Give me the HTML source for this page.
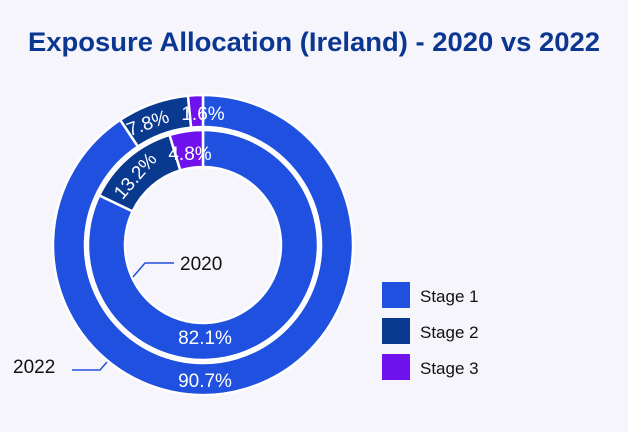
<!DOCTYPE html>
<html><head><meta charset="utf-8"><style>
html,body{margin:0;padding:0;background:#f7f5fc;}
svg{display:block;font-family:"Liberation Sans",sans-serif;}
</style></head><body>
<svg width="628" height="432" viewBox="0 0 628 432">
<rect width="628" height="432" fill="#f7f5fc"/>
<text x="314" y="51" text-anchor="middle" font-size="27" font-weight="bold" fill="#0b3791" textLength="572" lengthAdjust="spacingAndGlyphs" font-family="Liberation Sans Narrow, Liberation Sans, sans-serif">Exposure Allocation (Ireland) - 2020 vs 2022</text>
<g stroke="#fff" stroke-width="2.5">
<path d="M203,95 A150,150 0 1 1 120.26,119.88 L137.91,146.58 A118,118 0 1 0 203,127 Z" fill="#2050e0"/>
<path d="M120.26,119.88 A150,150 0 0 1 187.95,95.75 L191.16,127.59 A118,118 0 0 0 137.91,146.58 Z" fill="#0a3a8f"/>
<path d="M187.95,95.75 A150,150 0 0 1 203,95 L203,127 A118,118 0 0 0 191.16,127.59 Z" fill="#7012ee"/>
<path d="M203,130 A115,115 0 1 1 99.26,195.37 L132.64,211.34 A78,78 0 1 0 203,167 Z" fill="#2050e0"/>
<path d="M99.26,195.37 A115,115 0 0 1 169.54,134.98 L180.30,170.38 A78,78 0 0 0 132.64,211.34 Z" fill="#0a3a8f"/>
<path d="M169.54,134.98 A115,115 0 0 1 203,130 L203,167 A78,78 0 0 0 180.30,170.38 Z" fill="#7012ee"/>
</g>
<g fill="#fff" font-size="19" text-anchor="middle">
<text x="205" y="344">82.1%</text>
<text x="205" y="387">90.7%</text>
<text x="190" y="160">4.8%</text>
<text x="203" y="120">1.6%</text>
<text transform="translate(150,129) rotate(-20)">7.8%</text>
<text transform="translate(140,180) rotate(-49)">13.2%</text>
</g>
<g stroke="#2050e0" stroke-width="1.5" fill="none">
<polyline points="133,277 145,263 174,263"/>
<polyline points="72,370 100,370 107,362"/>
</g>
<g fill="#111" font-size="19">
<text x="180" y="270">2020</text>
<text x="13" y="373">2022</text>
</g>
<rect x="382" y="282" width="28" height="26" fill="#2050e0"/>
<rect x="382" y="318" width="28" height="26" fill="#0a3a8f"/>
<rect x="382" y="354" width="28" height="26" fill="#7012ee"/>
<g fill="#111" font-size="17">
<text x="420" y="302">Stage 1</text>
<text x="420" y="338">Stage 2</text>
<text x="420" y="374">Stage 3</text>
</g>
</svg>
</body></html>
